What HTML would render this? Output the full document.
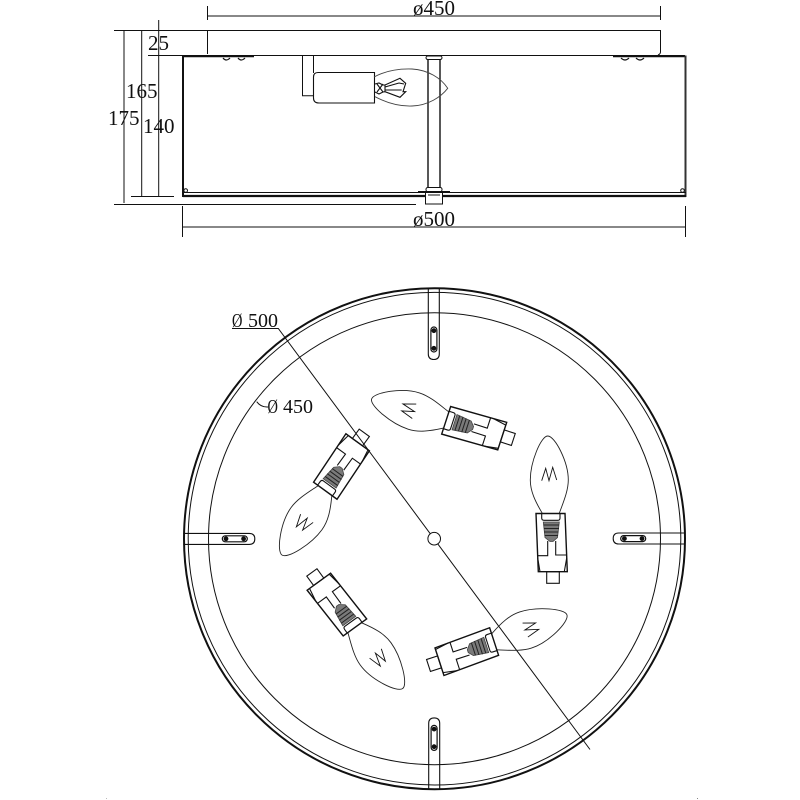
<!DOCTYPE html>
<html><head><meta charset="utf-8"><style>
html,body{margin:0;padding:0;background:#fff}
svg{display:block}
text{font-family:"Liberation Serif",serif;font-size:21px;fill:#111}
.p{font-size:20px}
</style></head><body>
<svg width="800" height="800" viewBox="0 0 800 800" xmlns="http://www.w3.org/2000/svg">
<rect width="800" height="800" fill="#fff"/>
<defs>
<g id="lamp" fill="none" stroke="#111" stroke-width="1.1">
<path d="M542.3 513.3C535 501 530.3 491 530.3 480C530.3 462 541 436 547.7 436C555 436 568.3 462 568.3 480C568.3 491 563 503 559.3 513.3" stroke="#222" stroke-width="0.9"/>
<polyline points="541.7,480.7 545.7,468.3 549,480.7 552.7,467.3 556.7,480" stroke-width="0.9"/>
<path d="M536 513.5H565L567.3 571.7H538.3Z" stroke-width="1.4"/>
<path d="M541.7 513.5V518Q541.7 520.3 544 520.3H558Q560 520.3 560 518V513.5"/>
<path d="M543.3 522H559.3L557.5 537.5L553 541.5H550L545 537.5Z" fill="#7a7a7a" stroke="#444" stroke-width="0.8"/>
<path d="M543.5 525H559M544 528.5H559M544 532H558.5M544.5 535.5H558" stroke="#222" stroke-width="1"/>
<path d="M537.7 555.7H547.7V541M555.7 541V555H566.7"/>
<path d="M537.7 558L540 571.7M566.7 558L564.3 571.7"/>
<rect x="546.7" y="571.7" width="12.6" height="11.6"/>
</g>
<g id="tab" fill="none" stroke="#111">
<path d="M428.3 288V354Q428.3 359.5 433.8 359.5Q439.3 359.5 439.3 354V288" stroke-width="1.1"/>
<rect x="430.9" y="327" width="6" height="25" rx="3" stroke-width="1.2"/>
<circle cx="433.9" cy="330.7" r="2.4" fill="#111" stroke="none"/>
<circle cx="433.9" cy="348.3" r="2.4" fill="#111" stroke="none"/>
</g>
</defs>

<!-- top elevation -->
<g fill="none" stroke="#111" stroke-width="1">
<path d="M207.5 6V20M207.5 16H660.5M660.5 6V20"/>
<path d="M114 30.5H660.5V52Q660.5 54 658 55"/>
<path d="M207.5 30.5V54"/>
<path d="M148 55.5H685"/>
<path d="M124 31V203M141.7 31V196M158.7 20V196"/>
<path d="M131 196.5H174"/>
<path d="M114 204.5H416"/>
<path d="M182.5 206V237M685.5 206V237M183 227H685"/>
<path d="M183 56.5H254M613 56.5H685" stroke-width="1.4"/>
<path d="M223 58Q226 62 230 58M238 58Q241 62 245 58M621 58Q625 62 629 58M636 58Q640 62 644 58" stroke-width="1.2"/>
<path d="M183 55.5V197" stroke-width="2"/>
<path d="M685.5 55.5V197" stroke-width="2" stroke="#333"/>
<path d="M183 192.5H686"/>
<path d="M183 196H686" stroke-width="2.2"/>
<circle cx="185.7" cy="190.5" r="1.8"/>
<circle cx="682.5" cy="190.5" r="1.8"/>
<!-- post -->
<path d="M428 59V187M440 59V187" stroke-width="1.4"/>
<rect x="426" y="56" width="16" height="3.5" rx="1.7" fill="#fff"/>
<rect x="426" y="187.5" width="16" height="4" rx="1.8" fill="#fff"/>
<path d="M418 191.5H450"/>
<rect x="425.5" y="192.5" width="17" height="11.5" fill="#fff"/>
<path d="M428 195H440"/>
<!-- side lamp -->
<path d="M302.5 55.5V95.7H313.5M313.5 55.5V73"/>
<path d="M374.5 72.5H318Q313.5 72.5 313.5 77V98Q313.5 103 319 103H374.5Z" fill="#fff" stroke-width="1.1"/>
<path d="M374 77C385 71 398 68.5 412 69C428 70 441 78 447.7 88.3C441 97 428 105.5 412 106C398 106.5 385 102 375 96.7" stroke="#444" stroke-width="0.9"/>
<path d="M375 84L379 83L383 85L385 85L400 78.3L405.7 83.3L403 91.7L405.7 91.7L400 97.3L385 91.7L383 92L379 94L375 92M377 84L383 92M383 84L377 92M385 85V91.7M385 87L399 83M385 90L401.7 90M399 83L404 84" stroke-width="1.1"/>
</g>
<text x="413" y="15">ø450</text>
<text x="413" y="226">ø500</text>
<text x="148" y="50">25</text>
<text x="126" y="98">165</text>
<text x="108" y="125">175</text>
<text x="143" y="133">140</text>

<!-- plan view -->
<g fill="none" stroke="#111">
<circle cx="434.5" cy="538.7" r="250.5" stroke-width="2"/>
<circle cx="434.5" cy="538.7" r="246.3" stroke-width="1"/>
<circle cx="434.5" cy="538.7" r="226" stroke-width="1"/>
<path d="M232 328.5H278.3L590 749.5" stroke-width="1"/>
<path d="M256.7 401.7Q261 407.5 268 407" stroke-width="1"/>
<circle cx="434.2" cy="538.7" r="6.3" fill="#fff" stroke-width="1"/>
</g>
<use href="#tab"/>
<use href="#tab" transform="rotate(90 434 538.7)"/>
<use href="#tab" transform="rotate(180 434 538.7)"/>
<use href="#tab" transform="rotate(270 434 538.7)"/>
<use href="#lamp"/>
<use href="#lamp" transform="rotate(-72 434.2 538.7)"/>
<use href="#lamp" transform="rotate(-144 434.2 538.7)"/>
<use href="#lamp" transform="rotate(144 434.2 538.7)"/>
<use href="#lamp" transform="rotate(72 434.2 538.7)"/>
<text class="p" transform="translate(232 327) scale(.72 1)">Ø</text><text class="p" x="248" y="327">500</text>
<text class="p" transform="translate(267.5 413) scale(.72 1)">Ø</text><text class="p" x="283" y="413">450</text>
<rect x="106" y="798" width="1" height="1" fill="#bbb"/>
<rect x="697" y="798" width="1" height="1" fill="#888"/>
</svg>
</body></html>
